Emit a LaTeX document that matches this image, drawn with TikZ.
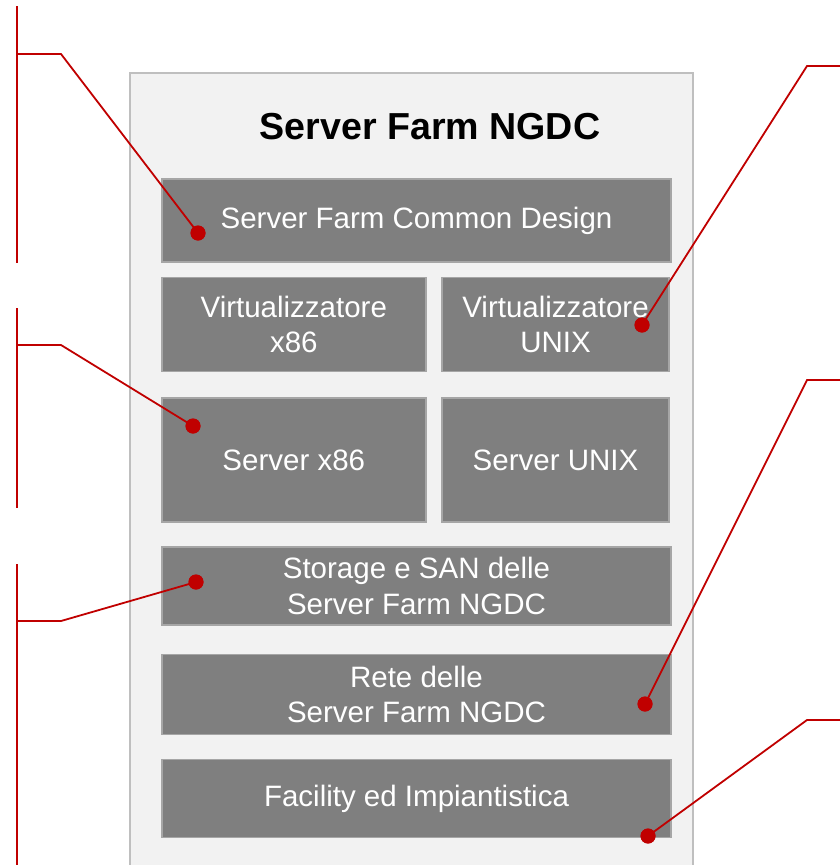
\documentclass[tikz,border=0pt]{standalone}
\usepackage{fontspec}
\setmainfont{Liberation Sans}
\definecolor{farmbg}{HTML}{F2F2F2}
\definecolor{farmedge}{HTML}{BFBFBF}
\definecolor{blockfill}{HTML}{7F7F7F}
\definecolor{blockedge}{HTML}{A6A6A6}
\definecolor{callout}{HTML}{C00000}
\begin{document}
\begin{tikzpicture}[x=1pt,y=-1pt,
  block/.style={draw=blockedge, line width=1.5pt, fill=blockfill, text=white,
    align=center, inner sep=0pt, font=\fontsize{29.5}{35.5}\selectfont},
  lead/.style={draw=callout, line width=1.8pt},
  pin/.style={circle, fill=callout, inner sep=0pt, minimum size=15pt}]
\useasboundingbox (0,0) rectangle (840,865);

% farm container
\draw[farmedge, fill=farmbg, line width=1.5pt] (130,73) rectangle (693,880);
\node[font=\fontsize{37.6}{45}\selectfont\bfseries] (title) at (430,127) {Server Farm NGDC};

% building blocks
\node[block, minimum width=509pt, minimum height=83pt] (common) at (416.5,220.5) {Server Farm Common Design};
\node[block, minimum width=264pt, minimum height=94pt] (virtx) at (293.8,324.3) {Virtualizzatore\\x86};
\node[block, minimum width=227pt, minimum height=94pt] (virtu) at (555.5,324.3) {Virtualizzatore\\UNIX};
\node[block, minimum width=264pt, minimum height=124pt] (srvx) at (293.8,460) {Server x86};
\node[block, minimum width=227pt, minimum height=124pt] (srvu) at (555.5,460) {Server UNIX};
\node[block, minimum width=509pt, minimum height=78pt] (stor) at (416.5,586) {Storage e SAN delle\\Server Farm NGDC};
\node[block, minimum width=509pt, minimum height=80pt] (net) at (416.5,694.5) {Rete delle\\Server Farm NGDC};
\node[block, minimum width=509pt, minimum height=78pt] (fac) at (416.5,798.5) {Facility ed Impiantistica};

% left brackets
\coordinate (la1) at (17,6);    \coordinate (lb1) at (17,263);
\coordinate (la2) at (17,308);  \coordinate (lb2) at (17,508);
\coordinate (la3) at (17,564);  \coordinate (lb3) at (17,870);
\draw[lead] (la1) -- (lb1);
\draw[lead] (la2) -- (lb2);
\draw[lead] (la3) -- (lb3);

% callout elbows
\coordinate (ls1) at (17,54);   \coordinate (lk1) at (61,54);
\coordinate (ls2) at (17,345);  \coordinate (lk2) at (61,345);
\coordinate (ls3) at (17,621);  \coordinate (lk3) at (61,621);
\coordinate (rs1) at (845,66);  \coordinate (rk1) at (807,66);
\coordinate (rs2) at (845,380); \coordinate (rk2) at (807,380);
\coordinate (rs3) at (845,720); \coordinate (rk3) at (807,720);

% callout pins
\node[pin] (p1) at (198,233) {};
\node[pin] (p2) at (193,426) {};
\node[pin] (p3) at (196,582) {};
\node[pin] (p4) at (642,325) {};
\node[pin] (p5) at (645,704) {};
\node[pin] (p6) at (648,836) {};

\draw[lead] (ls1) -- (lk1) -- (p1.center);
\draw[lead] (ls2) -- (lk2) -- (p2.center);
\draw[lead] (ls3) -- (lk3) -- (p3.center);
\draw[lead] (rs1) -- (rk1) -- (p4.center);
\draw[lead] (rs2) -- (rk2) -- (p5.center);
\draw[lead] (rs3) -- (rk3) -- (p6.center);

\foreach \p in {p1,p2,p3,p4,p5,p6} \fill[callout] (\p) circle (7.5pt);
\end{tikzpicture}
\end{document}
